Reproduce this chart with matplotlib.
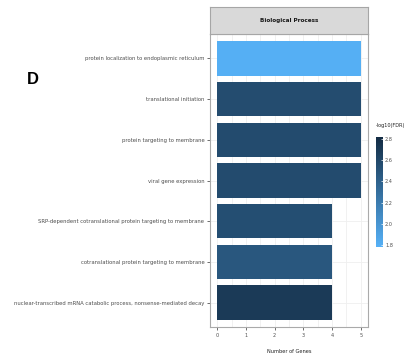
import matplotlib
matplotlib.use("Agg")
import matplotlib.pyplot as plt
import numpy as np
from matplotlib.colors import LinearSegmentedColormap, Normalize
from matplotlib.cm import ScalarMappable

terms = [
    "protein localization to endoplasmic reticulum",
    "translational initiation",
    "protein targeting to membrane",
    "viral gene expression",
    "SRP-dependent cotranslational protein targeting to membrane",
    "cotranslational protein targeting to membrane",
    "nuclear-transcribed mRNA catabolic process, nonsense-mediated decay",
]
gene_counts = [5, 5, 5, 5, 4, 4, 4]
neg_log_fdr = [1.80, 2.56, 2.57, 2.57, 2.55, 2.48, 2.70]
cbar_ticks = [1.8, 2.0, 2.2, 2.4, 2.6, 2.8]
x_ticks = [0, 1, 2, 3, 4, 5]

FONT = dict(family="DejaVu Sans", stretch="condensed")
TXT = "#4D4D4D"

cmap = LinearSegmentedColormap.from_list("fdr", ["#56B1F7", "#132B43"])
norm = Normalize(vmin=1.78, vmax=2.82)

fig = plt.figure(figsize=(4.11, 3.61), dpi=100)
W, H = 411.0, 361.0


def box(x0, y0, x1, y1):
    return [x0 / W, 1 - y1 / H, (x1 - x0) / W, (y1 - y0) / H]


ax = fig.add_axes(box(210, 34, 368, 327))
strip = fig.add_axes(box(210, 7, 368, 34))

ypos = np.arange(len(terms))
ax.barh(ypos, gene_counts, height=0.84, color=cmap(norm(neg_log_fdr)), zorder=3)
ax.set_ylim(len(terms) - 0.4, -0.6)
ax.set_xlim(-0.25, 5.25)

ax.set_yticks(ypos)
ax.set_yticklabels(terms, fontsize=4.25, color=TXT, **FONT)
ax.set_xticks(x_ticks)
ax.set_xticklabels([str(t) for t in x_ticks], fontsize=4, color=TXT, **FONT)
ax.set_xticks(np.arange(0.5, 5, 1), minor=True)
ax.tick_params(axis="both", length=2.5, width=0.5, color="#333333", pad=1.5)
ax.tick_params(axis="x", which="minor", length=0)
ax.grid(True, which="both", color="#EFEFEF", linewidth=0.6, zorder=0)
ax.set_xlabel("Number of Genes", fontsize=4.1, color="#222222", labelpad=8, **FONT)
for s in ax.spines.values():
    s.set_color("#AAAAAA")
    s.set_linewidth(0.8)

strip.set_facecolor("#D9D9D9")
strip.set_xticks([])
strip.set_yticks([])
for s in strip.spines.values():
    s.set_color("#A6A6A6")
    s.set_linewidth(0.8)
strip.text(0.5, 0.5, "Biological Process", transform=strip.transAxes, ha="center", va="center",
           fontsize=4.6, fontweight="bold", color="#1A1A1A", **FONT)

# -log10(FDR) colour guide
cax = fig.add_axes(box(376, 137, 383, 247))
cb = fig.colorbar(ScalarMappable(norm=norm, cmap=cmap), cax=cax, ticks=cbar_ticks)
cb.outline.set_visible(False)
cb.ax.tick_params(length=1.5, width=0.5, color="white", direction="in", pad=1.5)
cb.ax.set_yticklabels([f"{t:.1f}" for t in cbar_ticks], fontsize=4, color=TXT, **FONT)
fig.text(376 / W, 1 - 125 / H, "-log10(FDR)", fontsize=4, color="#222222",
         ha="left", va="center", **FONT)

fig.text(33 / W, 1 - 80 / H, "D", fontsize=12, fontweight="bold", ha="center", va="center",
         family=["Liberation Sans", "DejaVu Sans"])

fig.savefig("out.png", dpi=100)
